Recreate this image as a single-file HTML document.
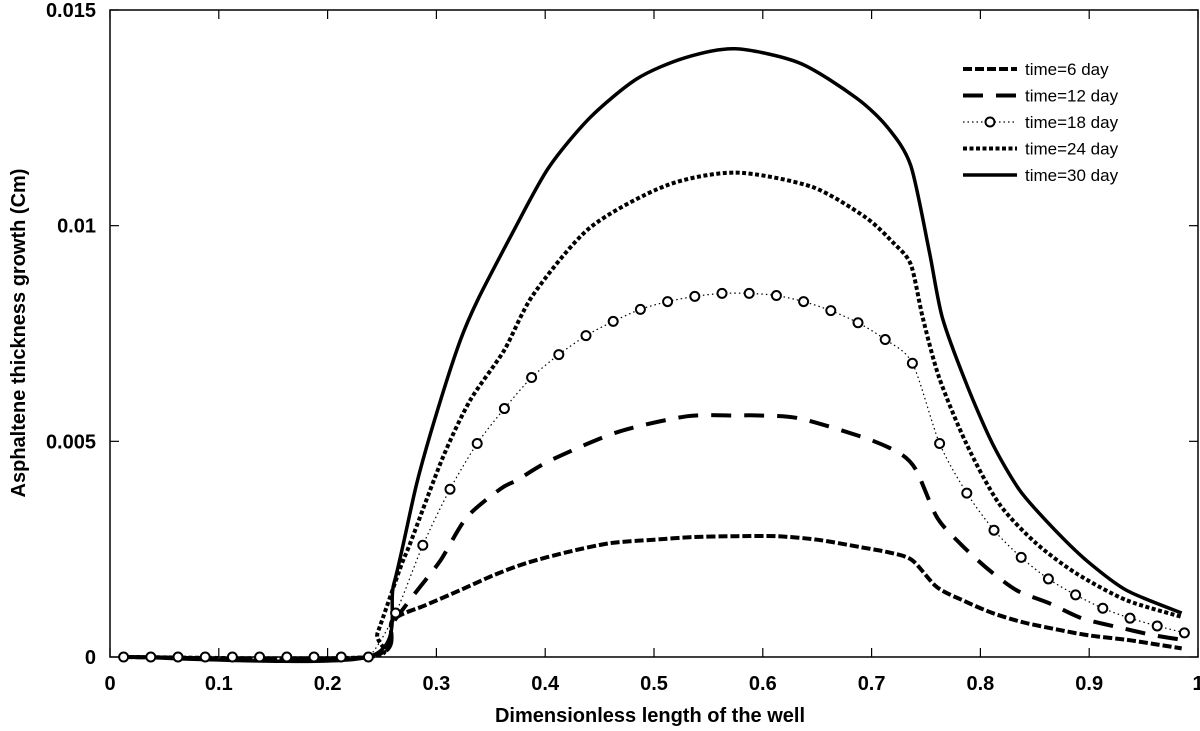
<!DOCTYPE html>
<html><head><meta charset="utf-8"><style>
html,body{margin:0;padding:0;background:#fff}
svg{display:block;font-family:"Liberation Sans",Arial,sans-serif}
</style></head><body>
<svg id="chart" width="1200" height="731" viewBox="0 0 1200 731">
<rect x="0" y="0" width="1200" height="731" fill="#fff"/>
<g id="axes"></g>
<g id="series"></g>
<g id="legend"></g>
<text x="650" y="722" text-anchor="middle" font-size="20" font-weight="bold">Dimensionless length of the well</text>
<text transform="translate(25,333) rotate(-90)" text-anchor="middle" font-size="20" font-weight="bold">Asphaltene thickness growth (Cm)</text>
</svg>
<script>
const xTicks = [0,0.1,0.2,0.3,0.4,0.5,0.6,0.7,0.8,0.9,1];
const xTickLabels = ["0","0.1","0.2","0.3","0.4","0.5","0.6","0.7","0.8","0.9","1"];
const yTicks = [0,0.005,0.01,0.015];
const yTickLabels = ["0","0.005","0.01","0.015"];
const seriesNames = ["time=6 day","time=12 day","time=18 day","time=24 day","time=30 day"];

const x6 = [0.0125,0.237,0.26,0.29,0.322,0.353,0.383,0.42,0.46,0.5,0.536,0.575,0.613,0.65,0.689,0.715,0.737,0.76,0.785,0.811,0.84,0.872,0.9,0.934,0.96,0.985];
const y6 = [0,0,0.00086,0.0012,0.00155,0.0019,0.00218,0.00243,0.00264,0.00272,0.00278,0.0028,0.0028,0.00272,0.00255,0.00243,0.00225,0.00162,0.0013,0.00102,0.0008,0.00063,0.0005,0.0004,0.0003,0.0002];
const x12 = [0.0125,0.237,0.26,0.2826,0.304,0.328,0.359,0.374,0.405,0.466,0.53,0.575,0.597,0.634,0.695,0.726,0.741,0.76,0.781,0.805,0.833,0.863,0.893,0.925,0.958,0.985];
const y12 = [0,0,0.0008,0.00155,0.00225,0.00324,0.0039,0.0041,0.00456,0.00521,0.00558,0.0056,0.0056,0.00553,0.00507,0.00472,0.00433,0.00324,0.00264,0.00208,0.00155,0.00125,0.0009,0.0007,0.00051,0.0004];
const x18 = [0.0125,0.0375,0.0625,0.0875,0.1125,0.1375,0.1625,0.1875,0.2125,0.2375,0.2625,0.2875,0.3125,0.3375,0.3625,0.3875,0.4125,0.4375,0.4625,0.4875,0.5125,0.5375,0.5625,0.5875,0.6125,0.6375,0.6625,0.6875,0.7125,0.7375,0.7625,0.7875,0.8125,0.8375,0.8625,0.8875,0.9125,0.9375,0.9625,0.9875];
const y18 = [0,0,0,0,0,0,0,0,0,0,0.00102,0.00259,0.00389,0.00495,0.00576,0.00648,0.00701,0.00745,0.00778,0.00806,0.00824,0.00836,0.00843,0.00843,0.00838,0.00824,0.00803,0.00775,0.00736,0.00681,0.00495,0.0038,0.00294,0.00231,0.00181,0.00144,0.00113,0.0009,0.00072,0.00056];
const x24 = [0.0125,0.237,0.246,0.267,0.276,0.306,0.331,0.362,0.389,0.441,0.511,0.575,0.645,0.694,0.72,0.736,0.747,0.762,0.787,0.817,0.851,0.888,0.934,0.985];
const y24 = [0,0,0.00056,0.00208,0.00264,0.00463,0.00595,0.0071,0.0084,0.00995,0.01093,0.01123,0.0109,0.0102,0.0096,0.0091,0.00787,0.00648,0.00495,0.00356,0.00264,0.00194,0.00132,0.00093];
const x30 = [0.0125,0.237,0.261,0.282,0.301,0.322,0.339,0.371,0.403,0.441,0.484,0.528,0.575,0.634,0.686,0.715,0.736,0.753,0.765,0.787,0.811,0.836,0.866,0.897,0.934,0.985];
const y30 = [0,0,0.00171,0.00403,0.00572,0.00734,0.00833,0.00988,0.01134,0.0125,0.0134,0.01389,0.0141,0.01377,0.01296,0.01227,0.01139,0.0094,0.00787,0.00634,0.00495,0.00387,0.00301,0.00225,0.00155,0.00102];

const L=110,R=1198,T=10,B=657;
const X = v => L + v*(R-L);
const Y = v => B - v/0.015*(B-T);
const NS="http://www.w3.org/2000/svg";
function mk(tag, parent, attrs){const e=document.createElementNS(NS,tag);for(const k in attrs)e.setAttribute(k,attrs[k]);parent.appendChild(e);return e;}

function smoothPath(pts){
  let d='M'+pts[0][0].toFixed(1)+','+pts[0][1].toFixed(1);
  for(let i=0;i<pts.length-1;i++){
    const p0=pts[Math.max(0,i-1)],p1=pts[i],p2=pts[i+1],p3=pts[Math.min(pts.length-1,i+2)];
    const k=1/6*0.8;
    const c1=[p1[0]+(p2[0]-p0[0])*k,p1[1]+(p2[1]-p0[1])*k];
    const c2=[p2[0]-(p3[0]-p1[0])*k,p2[1]-(p3[1]-p1[1])*k];
    d+=' C'+c1[0].toFixed(1)+','+c1[1].toFixed(1)+' '+c2[0].toFixed(1)+','+c2[1].toFixed(1)+' '+p2[0].toFixed(1)+','+p2[1].toFixed(1);
  }
  return d;
}

const axes=document.getElementById('axes');
const frame=mk('rect',axes,{x:L,y:T,width:R-L,height:B-T,fill:'none',stroke:'#000','stroke-width':1.5});


xTicks.forEach((t,i)=>{
  const px=X(t);
  const a=mk('line',axes,{x1:px,y1:B,x2:px,y2:B-9,stroke:'#000','stroke-width':1.2});
  
  
  const b=mk('line',axes,{x1:px,y1:T,x2:px,y2:T+9,stroke:'#000','stroke-width':1.2});
  
  
  const tx=mk('text',axes,{x:px,y:B+33,'text-anchor':'middle','font-size':20,'font-weight':'bold'});
  tx.textContent=xTickLabels[i];
  
  
});
yTicks.forEach((t,i)=>{
  const py=Y(t);
  const a=mk('line',axes,{x1:L,y1:py,x2:L+9,y2:py,stroke:'#000','stroke-width':1.2});
  
  
  const b=mk('line',axes,{x1:R,y1:py,x2:R-9,y2:py,stroke:'#000','stroke-width':1.2});
  
  
  const tx=mk('text',axes,{x:L-14,y:py+7,'text-anchor':'end','font-size':20,'font-weight':'bold'});
  tx.textContent=yTickLabels[i];
  
  
});

const styles=[
  {w:4,dash:'9,3'},
  {w:4,dash:'20,13'},
  {w:1.2,dash:'1.5,3'},
  {w:4,dash:'4,2.5'},
  {w:3.5,dash:''}
];
const xsAll=[x6,x12,x18,x24,x30], ysAll=[y6,y12,y18,y24,y30];
const sg=document.getElementById('series');
const lineNames=['line-6-day','line-12-day','line-18-day','line-24-day','line-30-day'];
xsAll.forEach((xs,s)=>{
  const pts=xs.map((x,i)=>[X(x),Y(ysAll[s][i])]);
  const p=mk('path',sg,{d:smoothPath(pts),fill:'none',stroke:'#000','stroke-width':styles[s].w,'stroke-dasharray':styles[s].dash,'stroke-linejoin':'round'});
  
  
});
x18.forEach((x,i)=>{
  const c=mk('circle',sg,{cx:X(x),cy:Y(y18[i]),r:4.5,fill:'#fff',stroke:'#000','stroke-width':2});
  
  
});

const lg=document.getElementById('legend');
const bg=mk('rect',lg,{x:955,y:50,width:200,height:140,fill:'#fff'});


seriesNames.forEach((n,i)=>{
  const y=69+i*26.5;
  const l=mk('line',lg,{x1:963,y1:y,x2:1017,y2:y,stroke:'#000','stroke-width':styles[i].w,'stroke-dasharray':styles[i].dash});
  
  
  if(i===2){
    const c=mk('circle',lg,{cx:990,cy:y,r:4.5,fill:'#fff',stroke:'#000','stroke-width':2});
    
    
  }
  const t=mk('text',lg,{x:1025,y:y+6,'font-size':17});
  t.textContent=n;
  
  
});
</script>
</body></html>
